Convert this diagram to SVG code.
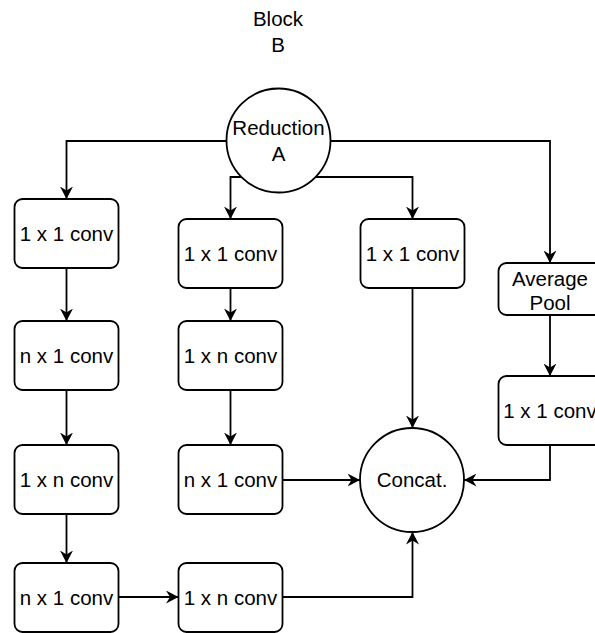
<svg xmlns="http://www.w3.org/2000/svg" width="595" height="633" viewBox="0 0 595 633">
  <defs>
    <marker id="arrow" markerUnits="userSpaceOnUse" markerWidth="13" markerHeight="13" refX="12.5" refY="6.5" orient="auto">
      <path d="M0,0 L12.5,6.5 L0,13 L4,6.5 Z" fill="#000"/>
    </marker>
    <style>
      .box { fill: #fff; stroke: #000; stroke-width: 1.8; }
      .edge { fill: none; stroke: #000; stroke-width: 1.8; marker-end: url(#arrow); }
      text { font-family: "Liberation Sans", Arial, sans-serif; font-size: 20.5px; fill: #000; text-anchor: middle; }
    </style>
  </defs>
  <rect width="595" height="633" fill="#fff"/>

  <!-- title -->
  <g id="title">
    <text x="278" y="26">Block</text>
    <text x="278" y="51.5">B</text>
  </g>

  <!-- connectors (drawn under the nodes) -->
  <g id="connectors">
    <path class="edge" d="M226.5,141 H66.5 V199"/>
    <path class="edge" d="M330.5,141 H550 V263"/>
    <path class="edge" d="M242,177 H230.5 V219"/>
    <path class="edge" d="M315,177 H412.5 V219"/>
    <path class="edge" d="M66.5,268 V321"/>
    <path class="edge" d="M66.5,390 V445"/>
    <path class="edge" d="M66.5,514 V563"/>
    <path class="edge" d="M230.5,288 V321"/>
    <path class="edge" d="M230.5,390 V445"/>
    <path class="edge" d="M412.5,288 V428"/>
    <path class="edge" d="M550,315 V376"/>
    <path class="edge" d="M550,445 V480 H464"/>
    <path class="edge" d="M282.5,480 H360"/>
    <path class="edge" d="M118.5,597 H178.5"/>
    <path class="edge" d="M282.5,597 H412.5 V532"/>
  </g>

  <g id="reduction-a">
    <circle class="box" cx="278.5" cy="140.5" r="52"/>
    <text x="278.5" y="135">Reduction</text>
    <text x="278.5" y="161">A</text>
  </g>

  <g id="left-conv-1">
    <rect class="box" x="14.5" y="199" width="104" height="69" rx="8"/>
    <text x="66.5" y="241">1 x 1 conv</text>
  </g>
  <g id="left-conv-2">
    <rect class="box" x="14.5" y="321" width="104" height="69" rx="8"/>
    <text x="66.5" y="362.5">n x 1 conv</text>
  </g>
  <g id="left-conv-3">
    <rect class="box" x="14.5" y="445" width="104" height="69" rx="8"/>
    <text x="66.5" y="486.5">1 x n conv</text>
  </g>
  <g id="left-conv-4">
    <rect class="box" x="14.5" y="563" width="104" height="69" rx="8"/>
    <text x="66.5" y="604.5">n x 1 conv</text>
  </g>

  <g id="mid-conv-1">
    <rect class="box" x="178.5" y="219" width="104" height="69" rx="8"/>
    <text x="230.5" y="260.5">1 x 1 conv</text>
  </g>
  <g id="mid-conv-2">
    <rect class="box" x="178.5" y="321" width="104" height="69" rx="8"/>
    <text x="230.5" y="362.5">1 x n conv</text>
  </g>
  <g id="mid-conv-3">
    <rect class="box" x="178.5" y="445" width="104" height="69" rx="8"/>
    <text x="230.5" y="486.5">n x 1 conv</text>
  </g>
  <g id="mid-conv-4">
    <rect class="box" x="178.5" y="563" width="104" height="69" rx="8"/>
    <text x="230.5" y="604.5">1 x n conv</text>
  </g>

  <g id="single-conv">
    <rect class="box" x="360.5" y="219" width="104" height="69" rx="8"/>
    <text x="412.5" y="260.5">1 x 1 conv</text>
  </g>

  <g id="average-pool">
    <rect class="box" x="498.5" y="263" width="104" height="52" rx="8"/>
    <text x="550" y="285.5">Average</text>
    <text x="550" y="310">Pool</text>
  </g>
  <g id="pool-conv">
    <rect class="box" x="498.5" y="376" width="104" height="69" rx="8"/>
    <text x="550" y="417.5">1 x 1 conv</text>
  </g>

  <g id="concat">
    <circle class="box" cx="412" cy="480" r="52"/>
    <text x="412" y="486.5">Concat.</text>
  </g>
</svg>
